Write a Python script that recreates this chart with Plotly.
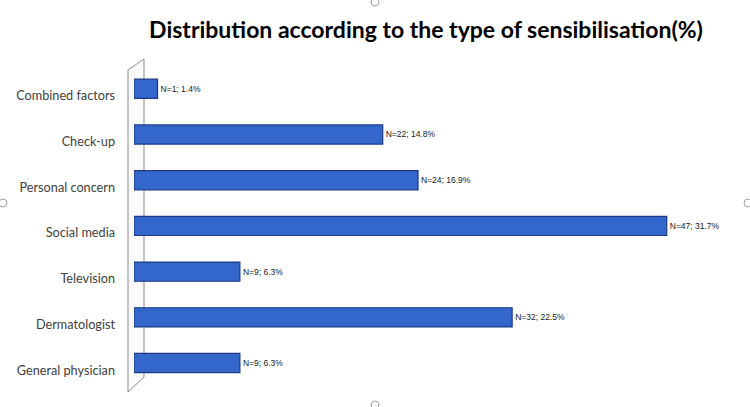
import plotly.graph_objects as go

categories = ["Combined factors", "Check-up", "Personal concern", "Social media",
              "Television", "Dermatologist", "General physician"]
counts = [1, 22, 24, 47, 9, 32, 9]
percents = [1.4, 14.8, 16.9, 31.7, 6.3, 22.5, 6.3]
labels = [f"N={n}; {p}%" for n, p in zip(counts, percents)]

W, H = 750, 407
L, R, T, B = 134, 11, 73, 14
pw, ph = W - L - R, H - T - B

def px(x):
    return (x - L) / pw

def py(y):
    return (H - B - y) / ph

fig = go.Figure()
fig.add_trace(go.Bar(
    x=percents, y=categories, orientation="h",
    text=labels, textposition="outside",
    textfont=dict(size=8.5, color="#202020", family="Liberation Sans"),
    cliponaxis=False,
    marker=dict(color="#3467CC", line=dict(color="#1C3A86", width=1.2)),
    width=0.42, offset=-0.055,
))

shapes = [
    dict(type="path", xref="paper", yref="paper", layer="below",
         path=f"M {px(128)},{py(70)} L {px(144)},{py(59)} L {px(144)},{py(377)} L {px(128)},{py(392)} Z",
         fillcolor="#FAFAFA", line=dict(color="#8C8C8C", width=1)),
]
for cx, cy in [(3, 203), (748, 203), (375, 2), (375, 405)]:
    shapes.append(dict(type="circle", xref="paper", yref="paper",
                       x0=px(cx - 4), x1=px(cx + 4), y0=py(cy + 4), y1=py(cy - 4),
                       line=dict(color="#A0A0A0", width=1), fillcolor="white"))

fig.update_layout(
    width=W, height=H,
    margin=dict(l=L, r=R, t=T, b=B),
    paper_bgcolor="white", plot_bgcolor="white",
    showlegend=False,
    shapes=shapes,
    title=dict(text="<b>Distribution according to the type of sensibilisation(%)</b>",
               x=426 / W, xanchor="center", y=1 - 30 / H, yanchor="middle",
               font=dict(size=23, color="black", family="Lato")),
    xaxis=dict(range=[0, 36], visible=False),
    yaxis=dict(categoryorder="array", categoryarray=categories[::-1],
               showline=False, showgrid=False, ticks="", ticklabelstandoff=18,
               tickfont=dict(size=12.7, color="#404040", family="Lato")),
)

fig.write_html("out.html")
